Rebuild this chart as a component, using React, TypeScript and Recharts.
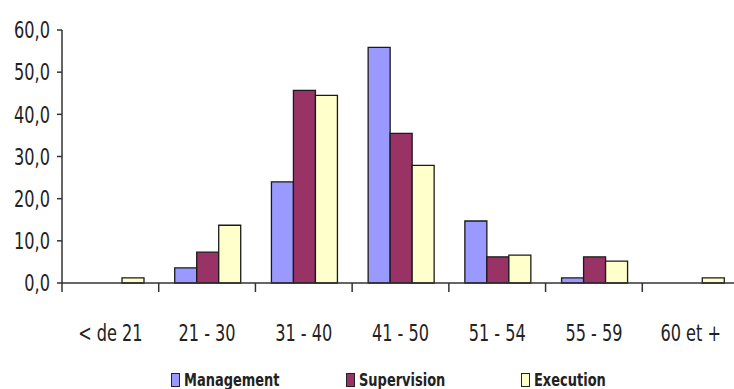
import { BarChart, Bar, XAxis, YAxis, Legend } from 'recharts';

const AGE_GROUPS = ['< de 21', '21 - 30', '31 - 40', '41 - 50', '51 - 54', '55 - 59', '60 et +'];
const MANAGEMENT = [0, 3.6, 24.0, 55.9, 14.7, 1.2, 0];
const SUPERVISION = [0, 7.3, 45.7, 35.5, 6.2, 6.2, 0];
const EXECUTION = [1.2, 13.7, 44.5, 27.9, 6.6, 5.2, 1.2];
const Y_TICKS = [0, 10, 20, 30, 40, 50, 60];

const SERIES = [
  { key: 'management', name: 'Management', color: '#9999ff' },
  { key: 'supervision', name: 'Supervision', color: '#993366' },
  { key: 'execution', name: 'Execution', color: '#ffffcc' },
];

const FONT = '"DejaVu Sans Condensed", "DejaVu Sans", sans-serif';
const AXIS_COLOR = '#333';
const SQUEEZE = 0.78; // the source font is a narrow one

const data = AGE_GROUPS.map((group, i) => ({
  group,
  management: MANAGEMENT[i],
  supervision: SUPERVISION[i],
  execution: EXECUTION[i],
}));

// category label + tick mark on the left edge of the band
function AgeTick(props: any) {
  const { x, y, payload } = props;
  const half = payload.offset ?? 0;
  return (
    <g>
      <line x1={x - half} y1={y} x2={x - half} y2={y + 9} stroke={AXIS_COLOR} strokeWidth={1.5} />
      <text
        transform={`translate(${x},${y + 58}) scale(${SQUEEZE},1)`}
        textAnchor="middle"
        fontFamily={FONT}
        fontSize={23}
        fill="#222"
      >
        {payload.value}
      </text>
    </g>
  );
}

function ValueTick(props: any) {
  const { x, y, payload } = props;
  return (
    <text
      transform={`translate(${x},${y}) scale(${SQUEEZE},1)`}
      textAnchor="end"
      dy="0.36em"
      fontFamily={FONT}
      fontSize={23}
      fill="#222"
    >
      {payload.value.toFixed(1).replace('.', ',')}
    </text>
  );
}

function ChartLegend() {
  return (
    <div style={{ display: 'flex', paddingLeft: 171, paddingTop: 15, fontFamily: FONT }}>
      {SERIES.map((s) => (
        <div key={s.key} style={{ width: 175, display: 'flex', alignItems: 'center' }}>
          <span
            style={{
              display: 'inline-block',
              width: 7,
              height: 12,
              background: s.color,
              border: '1px solid #222',
              marginRight: 4,
            }}
          />
          <span
            style={{
              fontSize: 18.5,
              fontWeight: 700,
              color: '#222',
              lineHeight: '18px',
              display: 'inline-block',
              transform: `scaleX(${SQUEEZE})`,
              transformOrigin: 'left center',
              whiteSpace: 'nowrap',
            }}
          >
            {s.name}
          </span>
        </div>
      ))}
    </div>
  );
}

export default function App() {
  return (
    <div style={{ position: 'absolute', left: 0, top: 0, width: 734, height: 389, overflow: 'hidden', background: '#fff' }}>
      <BarChart
        width={740}
        height={389}
        data={data}
        margin={{ top: 30, right: 1, bottom: 0, left: 0 }}
        barCategoryGap={16}
        barGap={0}
      >
        <XAxis
          dataKey="group"
          height={73}
          tickLine={false}
          tickSize={0}
          tickMargin={0}
          stroke={AXIS_COLOR}
          strokeWidth={1.5}
          tick={<AgeTick />}
          interval={0}
        />
        <YAxis
          width={62}
          domain={[0, 60]}
          ticks={Y_TICKS}
          tickSize={5}
          tickMargin={7}
          stroke={AXIS_COLOR}
          strokeWidth={1.5}
          tick={<ValueTick />}
        />
        <Legend verticalAlign="bottom" content={<ChartLegend />} wrapperStyle={{ left: 0, width: 734, height: 33 }} />
        {SERIES.map((s) => (
          <Bar
            key={s.key}
            dataKey={s.key}
            name={s.name}
            fill={s.color}
            stroke="#1a1a1a"
            strokeWidth={1.3}
            isAnimationActive={false}
          />
        ))}
      </BarChart>
    </div>
  );
}
